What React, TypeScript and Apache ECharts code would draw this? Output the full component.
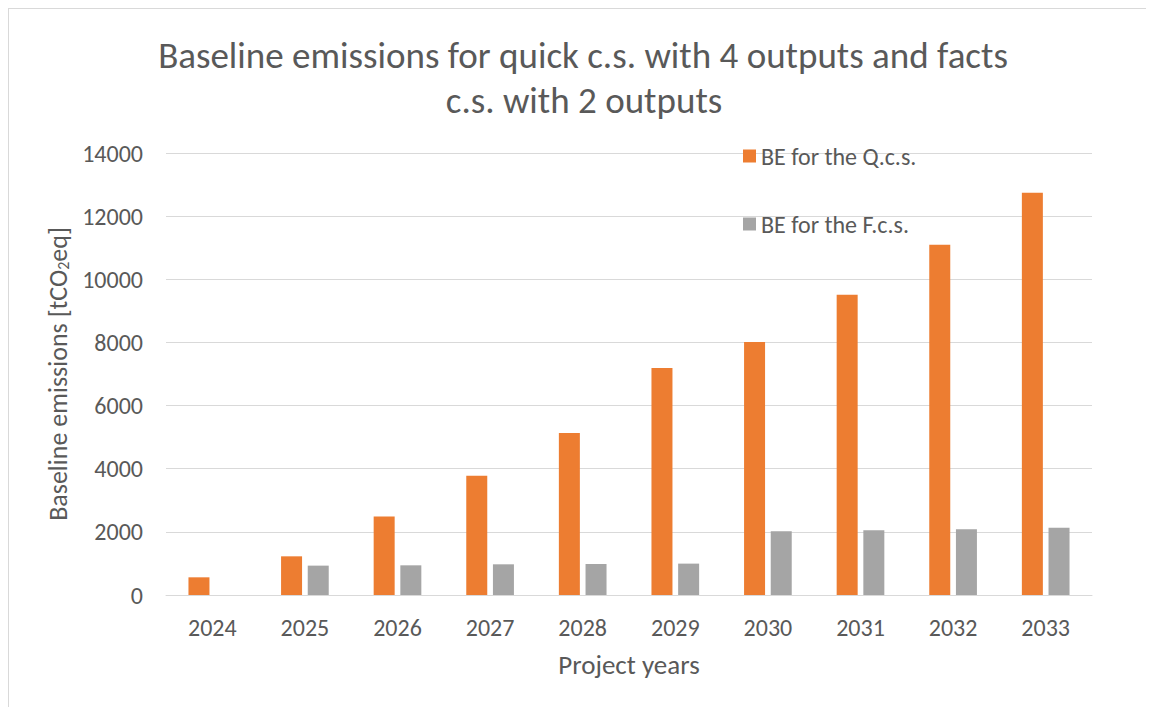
import React, { useEffect, useRef } from "react";
import * as echarts from "echarts";

const years = ["2024", "2025", "2026", "2027", "2028", "2029", "2030", "2031", "2032", "2033"];
const beQuick = [560, 1225, 2483, 3781, 5131, 7189, 8010, 9514, 11097, 12744];
const beFacts = [0, 930, 940, 972, 982, 994, 2020, 2049, 2080, 2134];
const titleLine1 = "Baseline emissions for quick c.s. with 4 outputs and facts";
const titleLine2 = "c.s. with 2 outputs";

const FONT = "Carlito, Lato, 'Open Sans', sans-serif";
const TXT = "#595959";

export default function App() {
  const ref = useRef<HTMLDivElement>(null);
  useEffect(() => {
    if (!ref.current) return;
    const chart = echarts.init(ref.current, undefined, { renderer: "svg" });
    chart.setOption({
      animation: false,
      backgroundColor: "#ffffff",
      textStyle: { fontFamily: FONT },
      graphic: [
        {
          type: "text",
          x: 574,
          y: 46,
          style: {
            text: titleLine1,
            textAlign: "center",
            textVerticalAlign: "middle",
            fontSize: 37,
            fontFamily: FONT,
            fill: TXT,
          },
        },
        {
          type: "text",
          x: 575,
          y: 91,
          style: {
            text: titleLine2,
            textAlign: "center",
            textVerticalAlign: "middle",
            fontSize: 37,
            fontFamily: FONT,
            fill: TXT,
          },
        },
      ],
      legend: {
        orient: "vertical",
        left: 729,
        top: 130,
        itemWidth: 13,
        itemHeight: 13,
        itemGap: 44,
        icon: "rect",
        textStyle: { fontSize: 24, color: TXT, fontFamily: FONT },
        data: ["BE for the Q.c.s.", "BE for the F.c.s."],
      },
      grid: { left: 157, right: 62, top: 144, bottom: 112, containLabel: false },
      xAxis: {
        type: "category",
        data: years,
        name: "Project years",
        nameLocation: "middle",
        nameGap: 56,
        nameTextStyle: { fontSize: 27, color: TXT, fontFamily: FONT },
        axisLine: { show: true, lineStyle: { color: "#d9d9d9", width: 1 } },
        axisTick: { show: false },
        axisLabel: { fontSize: 24, color: TXT, margin: 20, fontFamily: FONT },
      },
      yAxis: {
        type: "value",
        min: 0,
        max: 14000,
        interval: 2000,
        name: "Baseline emissions [tCO{sub|2}eq]",
        nameLocation: "middle",
        nameGap: 91,
        nameTextStyle: {
          fontSize: 26,
          color: TXT,
          fontFamily: FONT,
          rich: { sub: { fontSize: 16, color: TXT, fontFamily: FONT, verticalAlign: "bottom", padding: [10, 0, 0, 0] } },
        },
        axisLine: { show: false },
        axisTick: { show: false },
        axisLabel: { fontSize: 24, color: TXT, margin: 23, fontFamily: FONT, formatter: (v: number) => String(v) },
        splitLine: { lineStyle: { color: "#d9d9d9", width: 1 } },
      },
      series: [
        {
          name: "BE for the Q.c.s.",
          type: "bar",
          data: beQuick,
          barWidth: 21,
          barGap: "27%",
          itemStyle: { color: "#ED7D31" },
        },
        {
          name: "BE for the F.c.s.",
          type: "bar",
          data: beFacts,
          barWidth: 21,
          barGap: "27%",
          itemStyle: { color: "#A5A5A5" },
        },
      ],
    });
    return () => chart.dispose();
  }, []);
  return (
    <div
      style={{
        width: 1146,
        height: 699,
        borderTop: "1px solid #d9d9d9",
        borderLeft: "1px solid #d9d9d9",
        boxSizing: "border-box",
        overflow: "hidden",
      }}
    >
      <div ref={ref} style={{ width: 1145, height: 698 }} />
    </div>
  );
}
